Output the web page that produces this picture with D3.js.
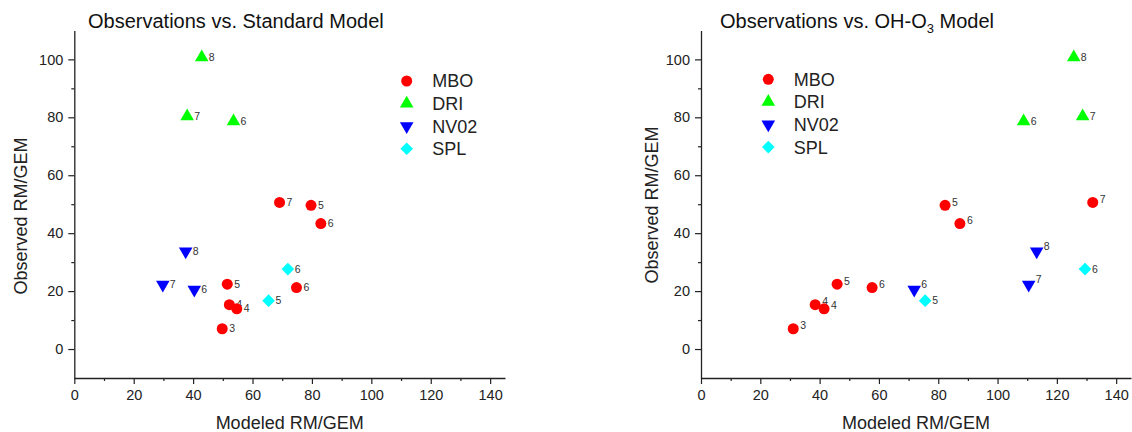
<!DOCTYPE html>
<html>
<head>
<meta charset="utf-8">
<script src="https://cdn.jsdelivr.net/npm/d3@7"></script>
<style>
  body { margin: 0; background: #fff; }
  svg { display: block; font-family: "Liberation Sans", Arial, sans-serif; }
</style>
</head>
<body>
<svg id="chart" width="1132" height="432"></svg>
<script>
// ---------------- data ----------------
const seriesNames = ["MBO", "DRI", "NV02", "SPL"];

const mboMonths = ["3", "4", "4", "5", "5", "6", "6", "7"];
const mboObs    = [7.0, 15.3, 13.9, 22.4, 49.6, 21.2, 43.3, 50.6];
const mboStd    = [49.8, 52.2, 54.7, 51.5, 79.7, 74.8, 83.0, 69.1];
const mboOH     = [31.1, 38.5, 41.5, 45.9, 82.3, 57.7, 87.3, 132.1];

const driMonths = ["8", "7", "6"];
const driObs    = [100.7, 80.3, 78.6];
const driStd    = [42.9, 38.0, 53.6];
const driOH     = [125.7, 128.7, 108.8];

const nvMonths  = ["8", "7", "6"];
const nvObs     = [33.7, 22.2, 20.5];
const nvStd     = [37.5, 29.8, 40.4];
const nvOH      = [113.2, 110.5, 71.9];

const splMonths = ["6", "5"];
const splObs    = [27.6, 16.7];
const splStd    = [71.9, 65.4];
const splOH     = [129.5, 75.6];

const xMajorTicks = [0, 20, 40, 60, 80, 100, 120, 140];
const xMinorTicks = [10, 30, 50, 70, 90, 110, 130];
const yMajorTicks = [0, 20, 40, 60, 80, 100];
const yMinorTicks = [10, 30, 50, 70, 90];

const xLabel = "Modeled RM/GEM";
const yLabel = "Observed RM/GEM";

// ---------------- styles ----------------
const colors = { MBO: "#ff0000", DRI: "#00ff00", NV02: "#0000ff", SPL: "#00ffff" };
const symbolFor = {
  MBO:  { type: d3.symbolCircle,   size: 95, rotate: 0 },
  DRI:  { type: d3.symbolTriangle, size: 80, rotate: 0 },
  NV02: { type: d3.symbolTriangle, size: 80, rotate: 180 },
  SPL:  { type: d3.symbolSquare,   size: 80, rotate: 45 }
};

const svg = d3.select("#chart");

const y = d3.scaleLinear().domain([-10, 110]).range([378, 30.4]);

function buildSeries(which) {
  return [
    { name: "MBO",  obs: mboObs, mod: which === "std" ? mboStd : mboOH, months: mboMonths },
    { name: "DRI",  obs: driObs, mod: which === "std" ? driStd : driOH, months: driMonths },
    { name: "NV02", obs: nvObs,  mod: which === "std" ? nvStd  : nvOH,  months: nvMonths },
    { name: "SPL",  obs: splObs, mod: which === "std" ? splStd : splOH, months: splMonths }
  ];
}

function symPath(name) {
  return d3.symbol().type(symbolFor[name].type).size(symbolFor[name].size)();
}

function drawPanel(cfg) {
  const x = d3.scaleLinear().domain([0, 145]).range([cfg.x0, cfg.x1]);
  const g = svg.append("g");

  // x axis
  g.append("g").attr("transform", `translate(0,${y(-10)})`)
    .call(d3.axisBottom(x).tickValues(xMajorTicks).tickSize(6).tickSizeOuter(0).tickPadding(6)
      .tickFormat(d3.format("d")));
  g.append("g").attr("transform", `translate(0,${y(-10)})`)
    .call(d3.axisBottom(x).tickValues(xMinorTicks).tickSize(3).tickSizeOuter(0).tickFormat(""))
    .select(".domain").remove();

  // y axis
  g.append("g").attr("transform", `translate(${cfg.x0},0)`)
    .call(d3.axisLeft(y).tickValues(yMajorTicks).tickSize(6).tickSizeOuter(0).tickPadding(5)
      .tickFormat(d3.format("d")));
  g.append("g").attr("transform", `translate(${cfg.x0},0)`)
    .call(d3.axisLeft(y).tickValues(yMinorTicks).tickSize(3).tickSizeOuter(0).tickFormat(""))
    .select(".domain").remove();

  g.selectAll(".domain").attr("stroke", "#222").attr("stroke-width", 1.3);
  g.selectAll(".tick line").attr("stroke", "#222").attr("stroke-width", 1.2);
  g.selectAll(".tick text").attr("font-size", 14.5).attr("fill", "#222")
    .attr("font-family", '"Liberation Sans", Arial, sans-serif');

  // axis titles
  g.append("text")
    .attr("x", (cfg.x0 + cfg.x1) / 2).attr("y", 429)
    .attr("text-anchor", "middle").attr("font-size", 18).attr("fill", "#222")
    .text(xLabel);
  g.append("text")
    .attr("transform", `translate(${cfg.yLabelX},${cfg.yLabelY}) rotate(-90)`)
    .attr("text-anchor", "middle").attr("font-size", 18).attr("fill", "#222")
    .text(yLabel);

  // chart title
  const t = g.append("text").attr("x", cfg.titleX).attr("y", 28)
    .attr("font-size", 20).attr("fill", "#111");
  cfg.titleParts.forEach(p => {
    const ts = t.append("tspan").text(p.text);
    if (p.sub) ts.attr("font-size", 13).attr("dy", 5);
    if (p.after) ts.attr("dy", -5);
  });

  // points
  const series = buildSeries(cfg.which);
  series.forEach(s => {
    const pts = s.obs.map((o, i) => ({ x: s.mod[i], y: o, m: s.months[i] }));
    const grp = g.append("g");
    pts.forEach(p => {
      grp.append("path")
        .attr("d", symPath(s.name))
        .attr("transform", `translate(${x(p.x)},${y(p.y)}) rotate(${symbolFor[s.name].rotate})`)
        .attr("fill", colors[s.name]);
      grp.append("text")
        .attr("x", x(p.x) + 7)
        .attr("y", y(p.y) + (cfg.labelDy[s.name] || 0))
        .attr("dy", "0.35em")
        .attr("font-size", 10.5).attr("fill", "#333")
        .text(p.m);
    });
  });

  // legend
  const lg = g.append("g");
  seriesNames.forEach((n, i) => {
    const ly = cfg.legendY + i * 22.6;
    lg.append("path")
      .attr("d", symPath(n))
      .attr("transform", `translate(${cfg.legendX},${ly}) rotate(${symbolFor[n].rotate})`)
      .attr("fill", colors[n]);
    lg.append("text")
      .attr("x", cfg.legendX + 25.5).attr("y", ly).attr("dy", "0.36em")
      .attr("font-size", 18).attr("fill", "#222")
      .text(n);
  });
}

drawPanel({
  which: "std", x0: 74.3, x1: 505,
  titleX: 88, titleParts: [{ text: "Observations vs. Standard Model" }],
  yLabelX: 26.5, yLabelY: 216,
  legendX: 406.7, legendY: 81,
  labelDy: { MBO: 0, DRI: 0, NV02: 0, SPL: 0 }
});

drawPanel({
  which: "oh", x0: 701, x1: 1131,
  titleX: 720, titleParts: [{ text: "Observations vs. OH-O" }, { text: "3", sub: true }, { text: " Model", after: true }],
  yLabelX: 658, yLabelY: 205,
  legendX: 768.3, legendY: 79.3,
  labelDy: { MBO: -3, DRI: 0, NV02: -5, SPL: 0 }
});
</script>
</body>
</html>
